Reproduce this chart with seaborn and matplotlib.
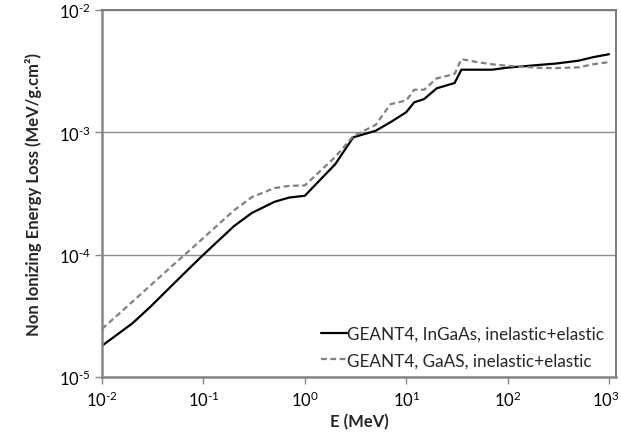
import numpy as np
import pandas as pd
import matplotlib
matplotlib.use("Agg")
import matplotlib.pyplot as plt
import matplotlib.transforms as mtransforms
import seaborn as sns

# Proton energies (MeV)
energy = [0.01, 0.02, 0.03, 0.05, 0.07, 0.1, 0.2, 0.3, 0.5, 0.7, 1, 2, 3, 5, 7,
          10, 12, 15, 20, 30, 35, 50, 70, 100, 200, 300, 500, 700, 1000]

# NIEL, GEANT4 InGaAs (MeV/g.cm2)
niel_ingaas = [1.8e-5, 2.75e-5, 3.75e-5, 5.7e-5, 7.5e-5, 1.0e-4, 1.71e-4, 2.19e-4,
               2.7e-4, 2.93e-4, 3.03e-4, 5.5e-4, 9.1e-4, 1.03e-3, 1.21e-3,
               1.46e-3, 1.76e-3, 1.87e-3, 2.29e-3, 2.53e-3, 3.25e-3, 3.25e-3,
               3.25e-3, 3.38e-3, 3.55e-3, 3.65e-3, 3.85e-3, 4.12e-3, 4.35e-3]

# NIEL, GEANT4 GaAs (MeV/g.cm2)
niel_gaas = [2.47e-5, 4.13e-5, 5.6e-5, 8.2e-5, 1.05e-4, 1.37e-4, 2.3e-4, 2.95e-4,
             3.5e-4, 3.65e-4, 3.68e-4, 6.3e-4, 9.3e-4, 1.15e-3, 1.70e-3,
             1.82e-3, 2.23e-3, 2.23e-3, 2.76e-3, 3.0e-3, 3.97e-3, 3.75e-3,
             3.6e-3, 3.5e-3, 3.37e-3, 3.35e-3, 3.4e-3, 3.6e-3, 3.75e-3]

label_ingaas = "GEANT4, InGaAs, inelastic+elastic"
label_gaas = "GEANT4, GaAS, inelastic+elastic"

# Decade labels with a short hyphen in the exponent
x_ticks = [1e-2, 1e-1, 1e0, 1e1, 1e2, 1e3]
x_tick_labels = ["$10^{\u2010 2}$", "$10^{\u2010 1}$", "$10^{0}$", "$10^{1}$",
                 "$10^{2}$", "$10^{3}$"]
y_ticks = [1e-5, 1e-4, 1e-3, 1e-2]
y_tick_labels = ["$10^{\u2010 5}$", "$10^{\u2010 4}$", "$10^{\u2010 3}$",
                 "$10^{\u2010 2}$"]

df_a = pd.DataFrame({"E": energy, "NIEL": niel_ingaas})
df_b = pd.DataFrame({"E": energy, "NIEL": niel_gaas})

sns.set_style("white")
plt.rcParams["font.family"] = ["Lato", "DejaVu Sans"]
plt.rcParams["mathtext.fontset"] = "custom"
plt.rcParams["mathtext.rm"] = "Lato"
plt.rcParams["mathtext.it"] = "Lato"
plt.rcParams["mathtext.bf"] = "Lato:bold"

fig = plt.figure(figsize=(6.21, 4.35), dpi=100)
ax = fig.add_axes([102 / 621, 1 - 378 / 435, (616 - 102) / 621, (378 - 11) / 435])
ax.set_xscale("log")
ax.set_yscale("log")

axis_gray = "#868686"
ax.yaxis.grid(True, color="#8c8c8c", linewidth=1.0)
ax.set_axisbelow(True)

sns.lineplot(data=df_a, x="E", y="NIEL", ax=ax, color="black", linewidth=1.6,
             label=label_ingaas)
sns.lineplot(data=df_b, x="E", y="NIEL", ax=ax, color="#808080", linewidth=1.6,
             linestyle=(0, (2.6, 1.6)), label=label_gaas)

ax.set_xlim(1e-2, 10 ** 3.069)
ax.set_ylim(1e-5, 1e-2)
ax.set_xticks(x_ticks)
ax.set_xticklabels(x_tick_labels)
ax.set_yticks(y_ticks)
ax.set_yticklabels(y_tick_labels)
ax.minorticks_off()
ax.tick_params(axis="both", which="major", direction="out", length=5, width=1,
               color=axis_gray, labelsize=12, labelcolor="black",
               bottom=True, left=True)
ax.tick_params(axis="x", pad=4)
ax.tick_params(axis="y", pad=3)

# keep the last decade label inside the canvas
last = ax.get_xticklabels()[-1]
last.set_transform(last.get_transform() +
                   mtransforms.ScaledTranslation(-3 / 100, 0, fig.dpi_scale_trans))

for side in ["left", "bottom"]:
    ax.spines[side].set_color(axis_gray)
    ax.spines[side].set_linewidth(1.8)
for side in ["top", "right"]:
    ax.spines[side].set_color("#7a7a7a")
    ax.spines[side].set_linewidth(1.4)

ax.set_xlabel("E (MeV)", fontsize=12, fontweight="bold", labelpad=3)
ax.set_ylabel("Non Ionizing Energy Loss (MeV/g.cm²)", fontsize=12,
              fontweight="bold", labelpad=12)

leg = ax.legend(loc="lower right", bbox_to_anchor=(0.99, 0.005), frameon=False,
                fontsize=12.3, handlelength=1.5, handletextpad=0.0,
                labelspacing=0.6, borderaxespad=0.0)

fig.savefig("out.png", dpi=100)
